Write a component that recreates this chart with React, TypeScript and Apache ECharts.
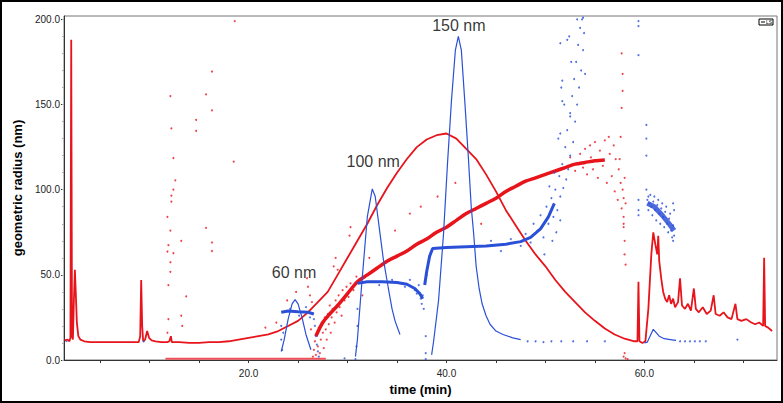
import React, { useEffect, useRef } from "react";
import * as echarts from "echarts";

const RED = "#e8141c";
const BLUE = "#2b50d8";
const FONT = "Liberation Sans, Arial, sans-serif";

const xTickValues = [5, 10, 15, 20, 25, 30, 35, 40, 45, 50, 55, 60, 65, 70];
const xLabelValues = [20, 40, 60];
const yLabelValues = [0, 50, 100, 150, 200];
const yMinorTickValues = [0, 10, 20, 30, 40, 50, 60, 70, 80, 90, 100, 110, 120, 130, 140, 150, 160, 170, 180, 190, 200];

const peakLabels = [
  [24.6, 51.4, "60 nm"],
  [32.6, 116.6, "100 nm"],
  [41.25, 196.6, "150 nm"],
];

const redSignal = [
  [1.4, 11.5], [1.7, 12], [1.9, 11], [2.0, 13], [2.08, 188], [2.16, 14], [2.25, 12], [2.35, 35], [2.45, 53], [2.55, 38], [2.65, 22], [2.8, 14], [3.0, 12], [3.4, 11],
  [4.0, 10.5], [5.0, 10.5], [6.0, 10.5], [7.0, 10.5], [8.0, 10.5], [8.9, 10.5], [9.05, 14], [9.15, 47], [9.25, 20], [9.35, 11], [9.55, 12], [9.75, 17], [9.95, 13],
  [10.2, 11.5], [10.6, 11], [11.2, 10.5], [11.8, 10.5], [12.0, 11], [12.15, 14], [12.25, 10.5], [13.0, 10.5], [14.0, 10], [15.0, 10], [16.0, 10.5], [17.0, 10.5],
  [18.0, 11], [19.0, 12], [20.0, 13], [21.0, 14], [22.0, 15], [23.0, 17], [24.0, 20], [25.0, 23], [26.0, 28], [27.0, 34], [28.0, 40], [29.0, 50], [30.0, 60],
  [31.0, 70], [32.0, 80], [33.0, 91], [34.0, 101], [35.0, 110], [36.0, 118], [37.0, 125], [38.0, 129.5], [39.0, 132], [40.0, 133], [41.0, 130], [42.0, 124],
  [43.0, 118], [44.0, 109], [45.0, 99], [46.0, 88], [47.0, 79], [48.0, 70], [49.0, 62], [50.0, 55], [51.0, 47], [52.0, 40], [53.0, 34], [54.0, 28], [55.0, 23],
  [56.0, 18.5], [57.0, 15], [58.0, 12.5], [59.0, 11], [59.3, 11], [59.4, 46], [59.5, 11], [59.8, 10], [60.1, 11], [60.4, 30], [60.7, 62], [60.9, 75], [61.1, 68],
  [61.3, 62], [61.4, 73], [61.5, 58], [61.7, 48], [61.9, 40], [62.1, 36], [62.3, 34], [62.5, 38], [62.7, 33], [62.9, 36], [63.1, 31], [63.4, 34], [63.6, 48],
  [63.8, 32], [64.1, 30], [64.4, 33], [64.7, 29], [65.0, 42], [65.2, 30], [65.5, 28], [65.9, 31], [66.3, 27], [66.7, 29], [67.0, 38], [67.2, 27], [67.6, 26],
  [68.0, 28], [68.4, 25], [68.8, 24], [69.2, 33], [69.4, 24], [69.8, 23], [70.3, 24], [70.8, 22], [71.2, 21], [71.6, 22], [72.0, 20], [72.1, 60], [72.2, 20],
  [72.5, 19], [72.9, 17],
];

const blueSignal = [
  [1.5, 11], [1.7, 11], null,
  [23.3, 5], [23.6, 12], [24.0, 24], [24.4, 33], [24.7, 35.5], [25.0, 33], [25.4, 25], [25.8, 15], [26.3, 6], null,
  [30.8, 2], [31.0, 12], [31.4, 42], [32.0, 84], [32.5, 100.5], [32.8, 96], [33.2, 78], [33.6, 60], [34.1, 43], [34.5, 30], [34.8, 23], [35.3, 15], null,
  [38.5, 3], [38.7, 11], [39.2, 35], [39.7, 74], [40.1, 115], [40.5, 152], [40.9, 182], [41.2, 190], [41.5, 182], [41.85, 152], [42.2, 120], [42.5, 90],
  [42.75, 74], [43.0, 55], [43.3, 42], [43.6, 33], [44.0, 26], [44.4, 21], [45.0, 17], [45.7, 15], [46.7, 13], [47.5, 12], null,
  [60.0, 10], [60.3, 10.5], [60.9, 18], [61.5, 14], [62.0, 12.5], [62.6, 12], [63.2, 11.5],
];

const blueBaselineDots = [
  [9.4, 11], [29.7, 1], [30.8, 0.5], [37.9, 0.5], [48.2, 11], [49.0, 11], [49.8, 10.5], [50.6, 11], [51.6, 11], [52.8, 11], [54.2, 11], [56.0, 11],
  [63.6, 11], [64.1, 11], [64.6, 11], [65.1, 11], [65.6, 11], [66.2, 11], [69.4, 12],
];

const redZeroRun = [[11.6, 0.8], [27.8, 0.8]];

const redRadiusTrend = [
  [26.8, 14], [27.5, 22], [28.2, 27], [29.0, 32], [30.0, 39], [31.0, 46], [32.0, 50], [33.0, 54], [34.0, 58], [35.0, 61], [36.0, 64], [37.0, 68], [38.0, 71],
  [39.0, 75], [40.0, 78], [41.0, 82], [42.0, 86], [43.0, 89], [44.0, 92], [45.0, 95], [46.0, 99], [47.0, 102], [48.0, 105], [49.0, 107], [50.0, 109],
  [51.0, 111], [52.0, 113], [53.0, 115], [54.0, 116], [55.0, 117], [56.0, 117.5],
];

const redRadiusDots = [
  [26.5, 2], [26.6, 6], [26.7, 11], [26.8, 3], [26.9, 15], [27.0, 8], [27.1, 19], [27.2, 4], [27.3, 12], [27.4, 22], [27.5, 16], [27.6, 7], [27.7, 25],
  [27.8, 18], [27.9, 12], [28.0, 27], [28.1, 21], [28.2, 32], [28.3, 16], [28.4, 25], [28.5, 30], [28.7, 22], [28.8, 35], [28.9, 28], [29.1, 38], [29.2, 31],
  [29.4, 26], [29.5, 41], [29.7, 35], [29.9, 43], [30.1, 37], [30.3, 45], [30.6, 41], [30.9, 49],
  [25.9, 48], [26.0, 43], [26.2, 38], [26.4, 34], [26.3, 18], [30.2, 73], [30.3, 78], [28.6, 55], [28.8, 60], [29.0, 53], [31.5, 38], [32.2, 60], [34.8, 76],
  [36.3, 86], [37.4, 90], [39.1, 96], [40.9, 104], [43.5, 80], [22.8, 22], [21.7, 19], [23.9, 35], [24.8, 40],
  [52.5, 119], [53.0, 111], [53.5, 121], [53.8, 113], [54.0, 124], [54.2, 109], [54.5, 126], [54.8, 112], [55.0, 128], [55.3, 107], [55.5, 123], [55.8, 114],
  [56.0, 129], [56.2, 104], [56.5, 121], [56.7, 108], [56.9, 126], [57.0, 99], [57.1, 118], [57.3, 94], [57.4, 112], [57.6, 104], [57.7, 89], [57.8, 100],
  [57.9, 95], [57.9, 84], [58.0, 107], [57.9, 78], [58.0, 70], [58.0, 62], [58.1, 56], [57.9, 80], [57.6, 131], [57.7, 148], [57.8, 168], [57.7, 180],
  [57.8, 158], [58.1, 92], [57.5, 118], [56.4, 131], [55.6, 117], [54.6, 119],
  [57.9, 2], [58.1, 1], [58.3, 0.5], [58.0, 4],
  [12.1, 155], [12.2, 136], [12.4, 118.6], [12.6, 105.5], [12.4, 100], [12.2, 96.5], [12.2, 93], [11.8, 84], [12.1, 76], [13.2, 70], [11.9, 67.4], [11.8, 63.7],
  [12.4, 62.7], [12.1, 57.4], [12.1, 51.8], [11.9, 44], [13.7, 37.4], [13.2, 26], [11.9, 24], [13.3, 20], [11.8, 16], [15.7, 156], [14.7, 141], [14.7, 134.5],
  [16.3, 169.4], [16.3, 146.6], [18.5, 116.5], [15.7, 77.6], [16.3, 69], [16.3, 64], [18.6, 199],
];

const blueRadiusA = [[23.3, 28], [24.0, 28.8], [25.0, 28.3], [26.0, 28], [26.6, 27]];
const blueRadiusB = [[31.0, 45], [32.0, 46], [33.5, 46], [35.0, 45.5], [36.0, 44.5], [36.8, 42], [37.3, 39], [37.6, 36]];
const blueRadiusC = [
  [37.8, 44], [38.0, 52], [38.3, 61], [38.6, 65.5], [40.0, 66], [42.0, 66.5], [44.0, 67], [46.0, 68], [47.5, 69.5], [48.5, 72], [49.5, 77], [50.3, 84], [50.9, 92],
];
const blueRadiusD = [[60.3, 92], [61.0, 90], [61.8, 85], [62.5, 80], [63.0, 76]];

const blueRadiusDots = [
  [23.3, 20], [23.3, 12], [23.4, 6], [23.5, 16], [26.7, 20], [26.8, 14], [26.9, 9], [27.0, 5], [26.6, 24], [27.1, 2], [24.2, 30], [25.1, 26], [25.8, 31], [26.2, 25],
  [31.0, 30], [31.0, 20], [30.9, 8], [36.8, 41], [37.0, 39], [37.2, 44], [37.4, 36], [37.5, 33], [37.6, 38], [37.7, 30], [37.9, 14], [37.9, 4], [35.8, 43],
  [36.3, 47], [34.5, 47], [33.2, 44],
  [38.0, 50], [38.2, 58], [44.5, 70], [45.5, 64], [46.5, 71], [47.5, 67], [48.0, 74], [48.5, 69], [48.8, 80], [49.2, 76], [49.5, 85], [49.8, 72], [50.1, 90],
  [50.3, 80], [50.6, 95], [50.8, 84], [51.0, 100], [51.2, 88], [51.4, 108], [51.5, 96], [51.7, 115], [51.8, 101], [52.0, 125], [52.1, 106], [52.2, 135],
  [52.3, 112], [52.5, 145], [52.5, 120], [52.7, 155], [52.8, 128], [52.9, 165], [53.0, 140], [53.1, 175], [53.2, 150], [53.3, 185], [53.4, 160], [53.5, 195],
  [53.6, 170], [53.7, 200], [53.8, 182], [51.9, 150], [51.6, 160], [52.4, 190], [51.3, 130], [53.9, 192], [54.0, 168], [52.6, 175], [50.9, 110], [50.4, 102],
  [49.9, 62], [50.7, 70], [51.1, 75], [51.5, 82], [51.5, 186], [52.2, 188], [51.7, 164], [51.7, 152], [52.5, 143], [53.2, 200], [53.8, 201], [51.5, 133],
  [59.4, 94], [59.4, 88], [59.4, 85], [59.4, 199], [59.4, 196], [59.4, 179], [60.2, 138], [60.2, 130], [60.2, 120], [60.2, 100],
  [60.3, 94], [60.5, 92], [60.7, 90], [60.9, 93], [61.1, 88], [61.3, 91], [61.5, 86], [61.7, 89], [61.9, 84], [62.1, 87], [62.3, 80], [62.5, 83], [62.7, 76],
  [62.9, 79], [63.0, 73], [60.4, 88], [60.8, 85], [61.2, 82], [61.6, 80], [62.0, 78], [62.4, 75], [62.8, 72], [63.0, 88], [62.9, 92], [60.6, 97], [61.0, 96],
  [60.4, 96], [61.4, 94], [62.2, 90], [62.6, 86], [61.8, 92], [62.9, 70],
];

export default function App() {
  const ref = useRef<HTMLDivElement>(null);
  useEffect(() => {
    document.body.style.margin = "0";
    if (!ref.current) return;
    const chart = echarts.init(ref.current, null, { renderer: "svg" });
    const axisText = { color: "#222", fontSize: 10, fontFamily: FONT };
    chart.setOption({
      animation: false,
      backgroundColor: "#fff",
      grid: { left: 64, top: 16, right: 6, bottom: 43, show: true, borderColor: "#777", borderWidth: 1 },
      xAxis: {
        type: "value",
        min: 1.35,
        max: 73.4,
        name: "time (min)",
        nameLocation: "middle",
        nameGap: 23,
        nameTextStyle: { fontSize: 13, fontWeight: "bold", color: "#000", fontFamily: FONT },
        axisLine: { show: true, lineStyle: { color: "#333" } },
        axisTick: { show: true, length: 3, lineStyle: { color: "#333" }, customValues: xTickValues },
        axisLabel: { ...axisText, margin: 8, customValues: xLabelValues, formatter: (v: number) => v.toFixed(1) },
        splitLine: { show: false },
      },
      yAxis: [
        {
          type: "value",
          min: 0,
          max: 202,
          name: "geometric radius (nm)",
          nameLocation: "middle",
          nameGap: 38,
          nameTextStyle: { fontSize: 13, fontWeight: "bold", color: "#000", fontFamily: FONT },
          axisLine: { show: true, lineStyle: { color: "#333" } },
          axisTick: { show: true, length: 3, lineStyle: { color: "#333" }, customValues: yLabelValues },
          axisLabel: { ...axisText, margin: 4, customValues: yLabelValues, formatter: (v: number) => v.toFixed(1) },
          splitLine: { show: false },
        },
        {
          type: "value",
          min: 0,
          max: 202,
          position: "left",
          axisLine: { show: false },
          axisTick: { show: true, length: 2, lineStyle: { color: "#aaa" }, customValues: yMinorTickValues },
          axisLabel: { show: false },
          splitLine: { show: false },
        },
      ],
      series: [
        { type: "line", data: redZeroRun, showSymbol: false, lineStyle: { color: "#f0505a", width: 2 }, z: 2 },
        { type: "line", data: redSignal, showSymbol: false, connectNulls: false, lineStyle: { color: RED, width: 1.8 }, z: 3 },
        { type: "line", data: redRadiusTrend, showSymbol: false, smooth: 0.3, lineStyle: { color: RED, width: 3.5 }, z: 3 },
        { type: "scatter", data: redRadiusDots, symbolSize: 2, itemStyle: { color: RED }, z: 3 },
        { type: "line", data: blueSignal, showSymbol: false, connectNulls: false, lineStyle: { color: BLUE, width: 1.2 }, z: 4 },
        { type: "scatter", data: blueBaselineDots, symbolSize: 2, itemStyle: { color: BLUE }, z: 4 },
        { type: "line", data: blueRadiusA, showSymbol: false, lineStyle: { color: BLUE, width: 3 }, z: 4 },
        { type: "line", data: blueRadiusB, showSymbol: false, lineStyle: { color: BLUE, width: 3 }, z: 4 },
        { type: "line", data: blueRadiusC, showSymbol: false, lineStyle: { color: BLUE, width: 3 }, z: 4 },
        { type: "line", data: blueRadiusD, showSymbol: false, lineStyle: { color: BLUE, width: 5, opacity: 0.85 }, z: 4 },
        { type: "scatter", data: blueRadiusDots, symbolSize: 2, itemStyle: { color: BLUE }, z: 4 },
        {
          type: "scatter",
          data: peakLabels,
          symbolSize: 1,
          itemStyle: { color: "rgba(0,0,0,0)" },
          label: {
            show: true,
            position: "inside",
            formatter: (p: any) => p.data[2],
            fontSize: 16,
            color: "#000",
            fontFamily: FONT,
          },
          z: 10,
        },
      ],
      graphic: [
        { type: "rect", shape: { x: 1, y: 1, width: 781, height: 401 }, style: { fill: "none", stroke: "#000", lineWidth: 2 }, z: 100 },
        { type: "rect", shape: { x: 759, y: 19, width: 14, height: 6 }, style: { fill: "#fff", stroke: "#000", lineWidth: 1 }, z: 100 },
        { type: "line", shape: { x1: 761, y1: 22, x2: 765, y2: 22 }, style: { stroke: "#000", lineWidth: 1 }, z: 101 },
        { type: "text", x: 766, y: 19.5, style: { text: "LS", fontSize: 5, fill: "#000", fontFamily: FONT }, z: 101 },
      ],
    });
    return () => chart.dispose();
  }, []);
  return <div ref={ref} style={{ width: 783, height: 403 }} />;
}
